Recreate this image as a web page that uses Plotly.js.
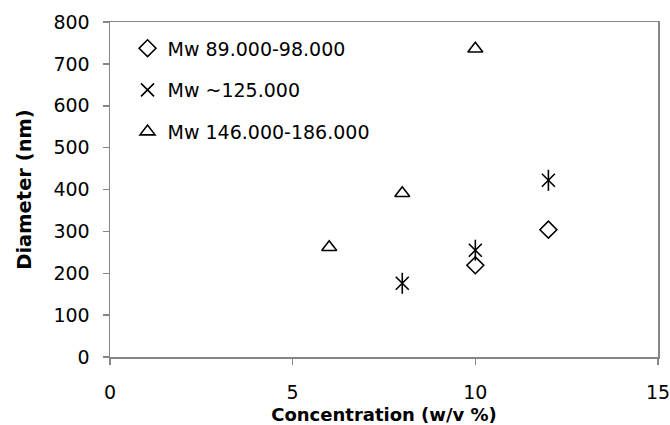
<!DOCTYPE html>
<html><head><meta charset="utf-8">
<script src="https://cdn.plot.ly/plotly-3.0.1.min.js"></script>
<style>body{margin:0;background:#fff}#chart{width:670px;height:425px}</style>
</head><body><div id="chart"></div>
<script>
const seriesNames = ["Mw 89.000-98.000", "Mw ~125.000", "Mw 146.000-186.000"];
const xLow = [10, 12];
const yLow = [219, 304];
const xMid = [8, 10, 12];
const yMid = [176, 255, 422];
const xHigh = [6, 8, 10];
const yHigh = [262, 391, 736];
const xTicks = [0, 5, 10, 15];
const yTicks = [0, 100, 200, 300, 400, 500, 600, 700, 800];

const mk = (sym, s) => ({symbol: sym, size: s, color: "#000", line: {color: "#000", width: 1.6}});
const traces = [
  {x: xLow, y: yLow, mode: "markers", name: seriesNames[0], legendgroup: "a", marker: mk("diamond-open", 13)},
  {x: xMid, y: yMid, mode: "markers", name: seriesNames[1], legendgroup: "b", marker: mk("x-thin-open", 13)},
  {x: xMid, y: yMid, mode: "markers", name: seriesNames[1], legendgroup: "b", showlegend: false, marker: mk("line-ns-open", 15)},
  {x: xHigh, y: yHigh, mode: "markers", name: seriesNames[2], legendgroup: "c", marker: mk("triangle-up-open", 13)}
];
const fontFam = "'DejaVu Sans', 'Liberation Sans', sans-serif";
const layout = {
  width: 670, height: 425,
  margin: {l: 110, r: 12, t: 22, b: 68},
  paper_bgcolor: "#fff", plot_bgcolor: "#fff",
  font: {family: fontFam, size: 19, color: "#000"},
  showlegend: true,
  legend: {x: 0.032, y: 0.978, xanchor: "left", yanchor: "top", bgcolor: "rgba(0,0,0,0)",
           font: {size: 19}, traceorder: "grouped", tracegroupgap: 14, itemwidth: 30},
  xaxis: {range: [0, 15], tickvals: xTicks, ticktext: xTicks.map(String), showgrid: false, zeroline: false,
          showline: true, linecolor: "#868686", linewidth: 1.5, mirror: true,
          ticks: "outside", ticklen: 6, tickcolor: "#868686", tickwidth: 1.5, tickfont: {size: 19},
          ticklabelstandoff: 12, ticklabeloverflow: "allow",
          title: {text: "<b>Concentration (w/v %)</b>", font: {size: 18}, standoff: 6}},
  yaxis: {range: [0, 800], tickvals: yTicks, ticktext: yTicks.map(String), showgrid: false, zeroline: false,
          showline: true, linecolor: "#868686", linewidth: 1.5, mirror: true,
          ticks: "outside", ticklen: 6, tickcolor: "#868686", tickwidth: 1.5, tickfont: {size: 19},
          ticklabelstandoff: 9, ticklabeloverflow: "allow",
          title: {text: "<b>Diameter (nm)</b>", font: {size: 19.5}, standoff: 16}}
};
Plotly.newPlot("chart", traces, layout, {displayModeBar: false, staticPlot: true});
</script></body></html>
